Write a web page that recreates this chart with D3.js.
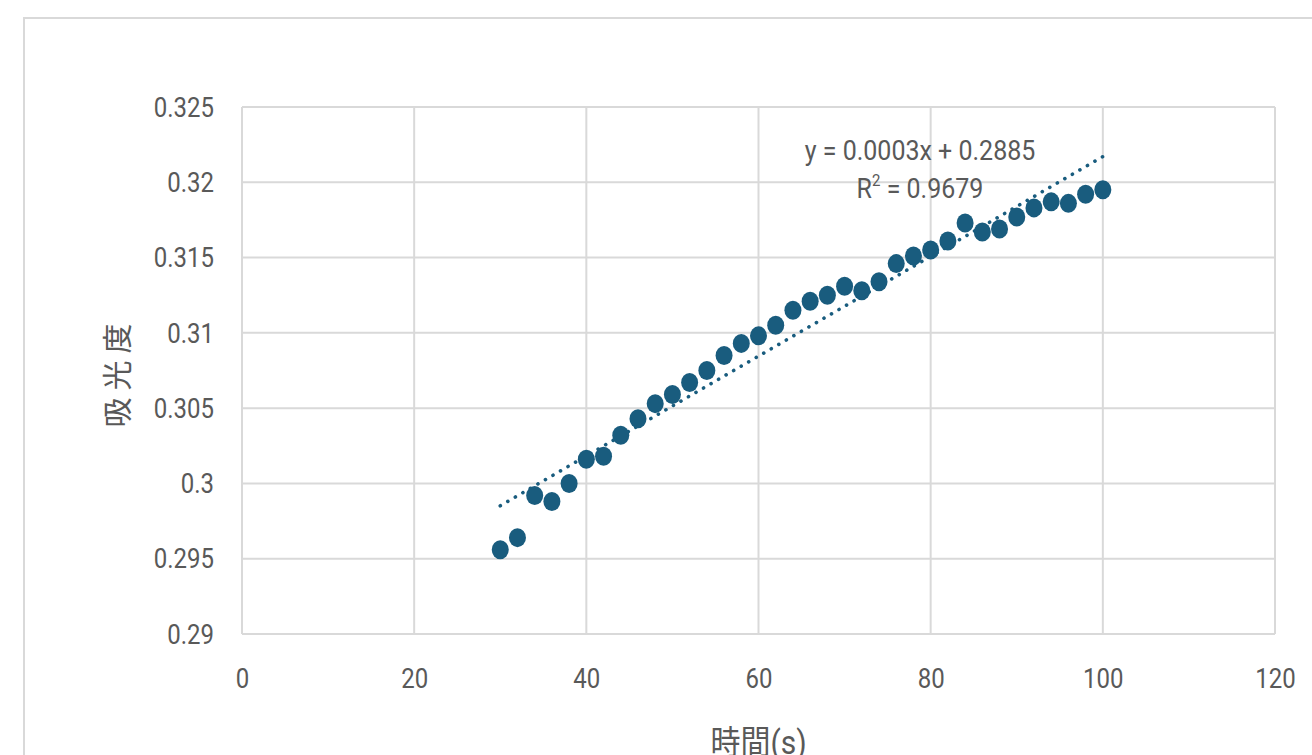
<!DOCTYPE html>
<html>
<head>
<meta charset="utf-8">
<script src="https://cdn.jsdelivr.net/npm/d3@7"></script>
<style>
  body { margin: 0; background: #fff; }
  text { font-family: Roboto, "Noto Sans CJK JP", sans-serif; fill: #595959; }
</style>
</head>
<body>
<div id="chart"></div>
<script>
const width = 1312;
const height = 755;

// time (s) and absorbance
const times = [30, 32, 34, 36, 38, 40, 42, 44, 46, 48, 50, 52, 54, 56, 58, 60, 62, 64,
  66, 68, 70, 72, 74, 76, 78, 80, 82, 84, 86, 88, 90, 92, 94, 96, 98, 100];
const absorb = [0.2956, 0.2964, 0.2992, 0.2988, 0.3000, 0.3016, 0.3018, 0.3032, 0.3043,
  0.3053, 0.3059, 0.3067, 0.3075, 0.3085, 0.3093, 0.3098, 0.3105, 0.3115, 0.3121, 0.3125,
  0.3131, 0.3128, 0.3134, 0.3146, 0.3151, 0.3155, 0.3161, 0.3173, 0.3167, 0.3169, 0.3177,
  0.3183, 0.3187, 0.3186, 0.3192, 0.3195];
const xTicks = [0, 20, 40, 60, 80, 100, 120];
const yTicks = [0.29, 0.295, 0.3, 0.305, 0.31, 0.315, 0.32, 0.325];
const eqLabel = "y = 0.0003x + 0.2885";
const r2Label = "0.9679";

const margin = { left: 242, right: 37, top: 107, bottom: 121 };

const svg = d3.select("#chart")
  .append("svg")
  .attr("width", width)
  .attr("height", height);

// chart frame (runs off the right and bottom edge)
svg.append("rect")
  .attr("x", 24).attr("y", 18)
  .attr("width", 1320).attr("height", 760)
  .attr("fill", "none")
  .attr("stroke", "#d9d9d9")
  .attr("stroke-width", 2);

const x = d3.scaleLinear().domain([0, 120]).range([margin.left, width - margin.right]);
const y = d3.scaleLinear().domain([0.29, 0.325]).range([height - margin.bottom, margin.top]);

// grid
svg.append("g")
  .selectAll("line")
  .data(yTicks)
  .enter().append("line")
  .attr("x1", x(0)).attr("x2", x(120))
  .attr("y1", d => y(d)).attr("y2", d => y(d))
  .attr("stroke", "#d9d9d9")
  .attr("stroke-width", 2);

svg.append("g")
  .selectAll("line")
  .data(xTicks)
  .enter().append("line")
  .attr("x1", d => x(d)).attr("x2", d => x(d))
  .attr("y1", y(0.29)).attr("y2", y(0.325))
  .attr("stroke", "#d9d9d9")
  .attr("stroke-width", 2);

// axes, labels only (text is a bit tall and narrow in the original)
const yAxis = svg.append("g")
  .attr("transform", `translate(${x(0) - 28},0)`)
  .call(d3.axisLeft(y).tickValues(yTicks).tickSize(0).tickFormat(d => String(+d.toFixed(3))));
yAxis.select(".domain").remove();
yAxis.selectAll("text")
  .attr("x", 0)
  .attr("y", 0)
  .attr("dy", "0.34em")
  .attr("transform", "scale(1,1.12)")
  .style("font-size", "24px")
  .attr("fill", "#595959");

const xAxis = svg.append("g")
  .attr("transform", `translate(0,${y(0.29) + 35})`)
  .call(d3.axisBottom(x).tickValues(xTicks).tickSize(0).tickFormat(d3.format("d")));
xAxis.select(".domain").remove();
xAxis.selectAll("text")
  .attr("y", 0)
  .attr("dy", "0.71em")
  .attr("transform", "scale(1,1.12)")
  .style("font-size", "24px")
  .attr("fill", "#595959");

// axis titles
svg.append("text")
  .attr("transform", `translate(128,372) rotate(-90)`)
  .attr("text-anchor", "middle")
  .style("font-size", "30px")
  .style("letter-spacing", "7px")
  .text("吸光度");

svg.append("text")
  .attr("transform", `translate(${x(60)},754) scale(1,1.1)`)
  .attr("text-anchor", "middle")
  .style("font-size", "30px")
  .text("時間(s)");

// least squares trendline
const n = times.length;
const mx = d3.mean(times), my = d3.mean(absorb);
let sxy = 0, sxx = 0;
for (let i = 0; i < n; i++) {
  sxy += (times[i] - mx) * (absorb[i] - my);
  sxx += (times[i] - mx) * (times[i] - mx);
}
const slope = sxy / sxx;
const icept = my - slope * mx;
const x0 = d3.min(times), x1 = d3.max(times);

svg.append("line")
  .attr("x1", x(x0)).attr("y1", y(icept + slope * x0))
  .attr("x2", x(x1)).attr("y2", y(icept + slope * x1))
  .attr("stroke", "#195c7e")
  .attr("stroke-width", 3.6)
  .attr("stroke-linecap", "round")
  .attr("stroke-dasharray", "0.1 8.6");

// points
svg.append("g")
  .selectAll("ellipse")
  .data(times)
  .enter().append("ellipse")
  .attr("cx", d => x(d))
  .attr("cy", (d, i) => y(absorb[i]))
  .attr("rx", 8.5)
  .attr("ry", 9.5)
  .attr("fill", "#195c7e");

// trendline label
const eq = svg.append("g").style("font-size", "25px");
eq.append("text")
  .attr("transform", "translate(920,160) scale(1,1.12)")
  .attr("text-anchor", "middle")
  .text(eqLabel);
const r2 = eq.append("text")
  .attr("transform", "translate(920,198) scale(1,1.12)")
  .attr("text-anchor", "middle");
r2.append("tspan").text("R");
r2.append("tspan").attr("dy", -11).style("font-size", "15px").text("2");
r2.append("tspan").attr("dy", 11).text(" = " + r2Label);
</script>
</body>
</html>
